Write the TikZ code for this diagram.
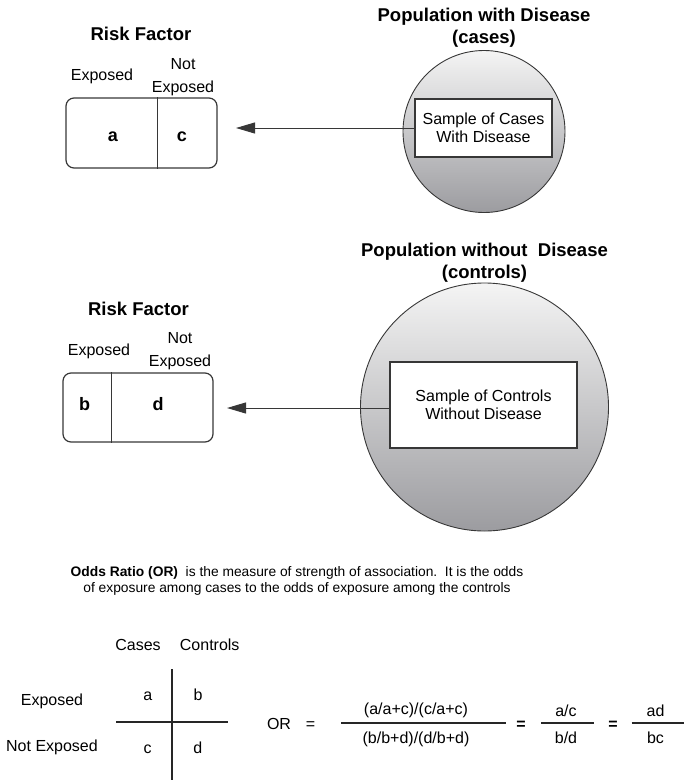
\documentclass[tikz,border=0pt]{standalone}
\usepackage{fontspec}
\setmainfont{Liberation Sans}
\usetikzlibrary{arrows.meta}
\definecolor{linec}{RGB}{55,55,55}
\definecolor{ctop}{RGB}{244,244,244}
\definecolor{cbot}{RGB}{156,156,160}
\begin{document}
\begin{tikzpicture}[x=1pt,y=-1pt,
  title/.style={font=\fontsize{18.5}{22}\selectfont\bfseries, inner sep=0pt, align=center},
  lbl/.style={font=\fontsize{16}{23}\selectfont, inner sep=0pt, align=center},
  cell/.style={font=\fontsize{18}{20}\selectfont\bfseries, anchor=base, inner sep=0pt},
  rfbox/.style={draw=linec, line width=1.2pt, rounded corners=8pt, inner sep=0pt},
  pop/.style={circle, draw=linec, line width=0.9pt, top color=ctop, bottom color=cbot, inner sep=0pt},
  samp/.style={draw=linec, line width=1.2pt, fill=white, inner sep=0pt, align=center, font=\fontsize{16}{18.4}\selectfont},
  arr/.style={draw=linec, line width=1pt, -{Triangle[length=19pt,width=11pt]}},
  eq/.style={font=\fontsize{16}{18}\selectfont, inner sep=0pt, anchor=base},
  rule/.style={draw=black!85, line width=1.1pt}
]
\useasboundingbox (0,0) rectangle (684,780);

% ---------- top section ----------
\node[title, anchor=base] (rf1) at (141,40) {Risk Factor};
\node[lbl, anchor=base] (ex1) at (102,80) {Exposed};
\node[lbl] (nx1) at (183,77) {Not\\Exposed};
\node[rfbox, minimum width=151pt, minimum height=70pt] (box1) at (141.5,133) {};
\draw[draw=linec, line width=1.2pt] ([xshift=92pt]box1.north west) -- ([xshift=92pt]box1.south west);
\node[cell] (ca) at (113,141) {a};
\node[cell] (cc) at (182,141) {c};

\node[title] (pt1) at (484,28) {Population with Disease\\(cases)};
\node[pop, minimum size=162pt] (c1) at (484,131.5) {};
\node[samp, minimum width=137pt, minimum height=58pt] (s1) at (483.5,128) {Sample of Cases\\With Disease};
\coordinate (t1) at (236,128);
\draw[arr] (s1.west) -- (t1);

% ---------- middle section ----------
\node[title, anchor=base] (rf2) at (138.5,315) {Risk Factor};
\node[lbl, anchor=base] (ex2) at (99,355) {Exposed};
\node[lbl] (nx2) at (180,351.6) {Not\\Exposed};
\node[rfbox, minimum width=150pt, minimum height=69pt] (box2) at (138,407.5) {};
\draw[draw=linec, line width=1.2pt] ([xshift=49pt]box2.north west) -- ([xshift=49pt]box2.south west);
\node[cell] (cb) at (84.5,410) {b};
\node[cell] (cd) at (158,410) {d};

\node[title] (pt2) at (484.5,263) {Population without\ \ Disease\\(controls)};
\node[pop, minimum size=248pt] (c2) at (484.5,407) {};
\node[samp, minimum width=187pt, minimum height=86pt] (s2) at (483.5,405) {Sample of Controls\\Without Disease};
\coordinate (t2) at (227,408);
\draw[arr] (s2.west |- t2) -- (t2);

% ---------- definition ----------
\node[font=\fontsize{13.8}{15.5}\selectfont, inner sep=0pt, align=center] (def) at (297,580.7)
  {\textbf{Odds Ratio (OR)}\ \ is the measure of strength of association.\ \ It is the odds\\of exposure among cases to the odds of exposure among the controls};

% ---------- 2x2 table ----------
\node[eq] (hcases) at (138,650) {Cases};
\node[eq] (hctrl) at (209.7,650) {Controls};
\node[eq] (rexp) at (52,705) {Exposed};
\node[eq] (rnexp) at (52,751.5) {Not Exposed};
\node[eq] (ta) at (147.7,700) {a};
\node[eq] (tb) at (198,700) {b};
\node[eq] (tc) at (147.5,753) {c};
\node[eq] (td) at (197.7,753) {d};
\coordinate (vt) at (172,669);
\coordinate (vb) at (172,780);
\coordinate (hl) at (116,722);
\coordinate (hr) at (228,722);
\draw[rule] (vt) -- (vb);
\draw[rule] (hl) -- (hr);

% ---------- formula ----------
\node[eq] (or) at (279,729.5) {OR};
\node[eq] (eq1) at (310.5,729.5) {=};
\node[eq] (n1) at (416,714) {(a/a+c)/(c/a+c)};
\node[eq] (d1) at (416,743) {(b/b+d)/(d/b+d)};
\coordinate (f1l) at (341,723);
\coordinate (f1r) at (506,723);
\draw[rule] (f1l) -- (f1r);
\node[eq, font=\fontsize{16}{18}\selectfont\bfseries] (eq2) at (521,729) {=};
\node[eq] (n2) at (566,716.5) {a/c};
\node[eq] (d2) at (566,743) {b/d};
\coordinate (f2l) at (541,723);
\coordinate (f2r) at (594,723);
\draw[rule] (f2l) -- (f2r);
\node[eq, font=\fontsize{16}{18}\selectfont\bfseries] (eq3) at (613,729) {=};
\node[eq] (n3) at (655.5,716.5) {ad};
\node[eq] (d3) at (655.5,743) {bc};
\coordinate (f3l) at (631.5,723);
\coordinate (f3r) at (684,723);
\draw[rule] (f3l) -- (f3r);
\end{tikzpicture}
\end{document}
